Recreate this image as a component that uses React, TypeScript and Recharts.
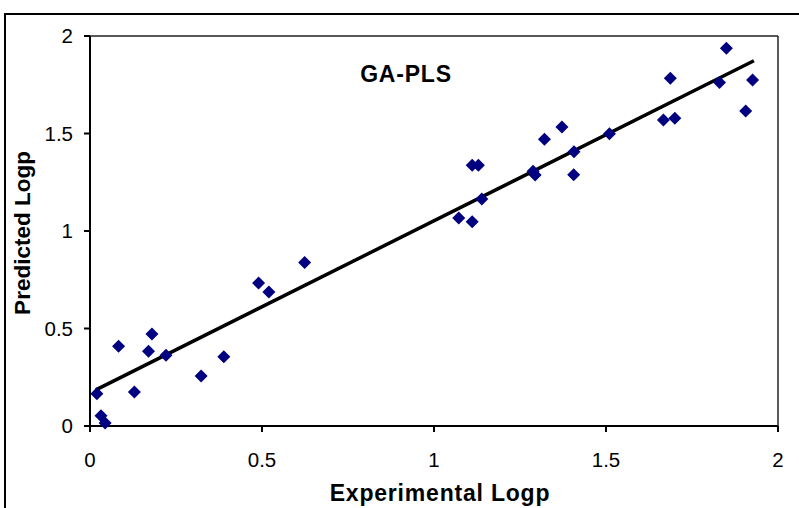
import { ScatterChart, Scatter, XAxis, YAxis, ReferenceLine } from "recharts";

// values
const expLogp = [
  0.02, 0.032, 0.044, 0.083, 0.129, 0.17, 0.18, 0.221, 0.323, 0.389, 0.49, 0.52, 0.624,
  1.072, 1.111, 1.111, 1.129, 1.139, 1.288, 1.294, 1.321, 1.372, 1.407, 1.406, 1.51,
  1.667, 1.7, 1.687, 1.83, 1.85, 1.926, 1.906,
];
const predLogp = [
  0.165, 0.053, 0.015, 0.409, 0.174, 0.383, 0.472, 0.363, 0.256, 0.355, 0.733, 0.687, 0.839,
  1.067, 1.048, 1.337, 1.337, 1.164, 1.306, 1.287, 1.47, 1.533, 1.407, 1.289, 1.499,
  1.569, 1.578, 1.783, 1.762, 1.937, 1.774, 1.615,
];
// fitted line end points
const trendX = [0.017, 1.93];
const trendY = [0.185, 1.873];
const axisTicks = [0, 0.5, 1, 1.5, 2];

const points = expLogp.map((x, i) => ({ x, y: predLogp[i] }));
const trend = trendX.map((x, i) => ({ x, y: trendY[i] }));

const FONT = "'Liberation Sans', Arial, sans-serif";

const Diamond = (props: any) => {
  const { cx, cy } = props;
  if (cx == null || cy == null) return <g />;
  const r = 6.5;
  return (
    <polygon
      points={`${cx},${cy - r} ${cx + r},${cy} ${cx},${cy + r} ${cx - r},${cy}`}
      fill="#000080"
    />
  );
};

export default function App() {
  return (
    <div style={{ position: "absolute", left: 0, top: 0, width: 799, height: 508, overflow: "hidden", background: "#fff" }}>
      <div style={{ position: "absolute", left: 4, top: 13, width: 900, height: 600, border: "2px solid #000" }} />
      <div style={{ position: "absolute", left: 0, top: 0 }}>
        <ScatterChart width={799} height={508} margin={{ top: 36, right: 21, bottom: 0, left: 0 }}>
          <XAxis
            type="number"
            dataKey="x"
            domain={[0, 2]}
            ticks={axisTicks}
            height={82}
            tickSize={6}
            tickMargin={20}
            axisLine={{ stroke: "#000", strokeWidth: 2 }}
            tickLine={{ stroke: "#000", strokeWidth: 2 }}
            tick={{ fill: "#000", fontSize: 20.5, fontFamily: FONT }}
            label={{
              content: () => (
                <text x={440} y={501} textAnchor="middle" fontSize={23} fontWeight="bold" fontFamily={FONT} fill="#000" letterSpacing={0.8}>
                  Experimental Logp
                </text>
              ),
            }}
          />
          <YAxis
            type="number"
            dataKey="y"
            domain={[0, 2]}
            ticks={axisTicks}
            width={90}
            tickSize={6}
            tickMargin={11}
            axisLine={{ stroke: "#000", strokeWidth: 2 }}
            tickLine={{ stroke: "#000", strokeWidth: 2 }}
            tick={{ fill: "#000", fontSize: 20.5, fontFamily: FONT }}
            label={{
              content: () => (
                <text
                  x={30}
                  y={233}
                  transform="rotate(-90 30 233)"
                  textAnchor="middle"
                  fontSize={22.5}
                  fontWeight="bold"
                  fontFamily={FONT}
                  fill="#000"
                >
                  Predicted Logp
                </text>
              ),
            }}
          />
          <ReferenceLine
            y={2}
            stroke="#222"
            strokeWidth={1.5}
            label={{
              content: () => (
                <text x={406} y={82} textAnchor="middle" fontSize={23} fontWeight="bold" fontFamily={FONT} fill="#000" letterSpacing={0.8}>
                  GA-PLS
                </text>
              ),
            }}
          />
          <ReferenceLine x={2} stroke="#222" strokeWidth={1.5} />
          <Scatter
            data={trend}
            line={{ stroke: "#000", strokeWidth: 3.5 }}
            shape={() => <g />}
            isAnimationActive={false}
          />
          <Scatter data={points} shape={<Diamond />} isAnimationActive={false} />
        </ScatterChart>
      </div>
    </div>
  );
}
